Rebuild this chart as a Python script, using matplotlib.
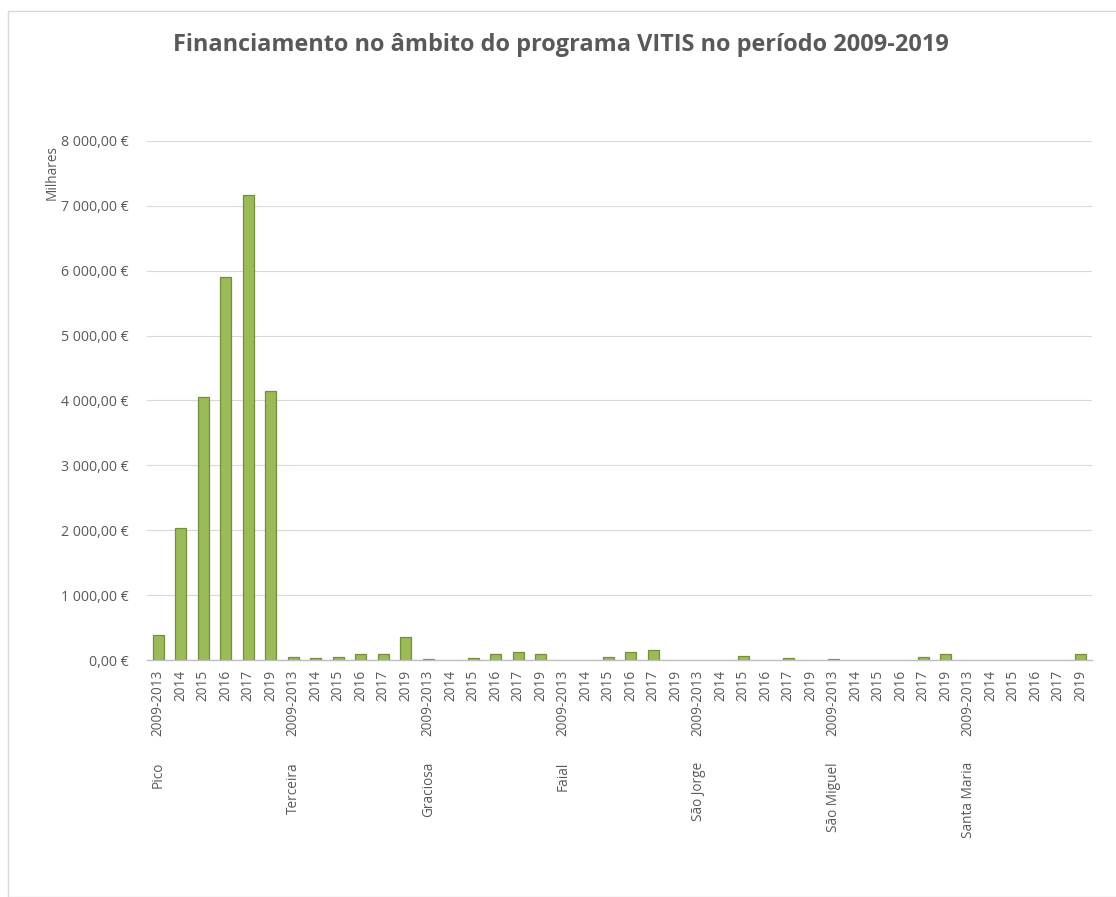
import matplotlib
matplotlib.use("Agg")
import matplotlib.pyplot as plt
from matplotlib.ticker import FuncFormatter
from matplotlib.transforms import blended_transform_factory
from matplotlib.patches import Rectangle

islands = ["Pico", "Terceira", "Graciosa", "Faial", "São Jorge", "São Miguel", "Santa Maria"]
years = ["2009-2013", "2014", "2015", "2016", "2017", "2019"]

pico = [385, 2040, 4050, 5900, 7160, 4145]
terceira = [45, 35, 45, 90, 90, 360]
graciosa = [15, 0, 25, 90, 125, 90]
faial = [0, 0, 45, 125, 150, 0]
sao_jorge = [0, 0, 55, 0, 30, 0]
sao_miguel = [10, 0, 0, 0, 45, 95]
santa_maria = [0, 0, 0, 0, 0, 95]

series = [pico, terceira, graciosa, faial, sao_jorge, sao_miguel, santa_maria]
values = [v for s in series for v in s]
labels = [y for _ in islands for y in years]
x = list(range(len(values)))

plt.rcParams['font.family'] = ['Open Sans', 'DejaVu Sans']
text_col = '#595959'

fig = plt.figure(figsize=(11.16, 8.97), dpi=100)
fig.patches.append(Rectangle((8/1116, 0), 1.2, (897-11)/897, transform=fig.transFigure,
                             fill=False, edgecolor='#d9d9d9', linewidth=1.0))

ax = fig.add_axes([147/1116, 1-660/897, (1092-147)/1116, (660-141)/897])
bars = ax.bar(x, values, width=0.5, color='#9bbb59', edgecolor='#738f3a', linewidth=0.9, zorder=3)
for b, v in zip(bars, values):
    if v == 0:
        b.set_linewidth(0)

ax.set_xlim(-0.5, len(values)-0.5)
ax.set_ylim(0, 8000)
ax.set_yticks(range(0, 8001, 1000))

def fmt(v, pos):
    s = f"{v:,.2f}".replace(",", " ").replace(".", ",")
    return s + " €"
ax.yaxis.set_major_formatter(FuncFormatter(fmt))

ax.grid(axis='y', color='#d9d9d9', linewidth=0.8, zorder=0)
for sp in ['top', 'right', 'left']:
    ax.spines[sp].set_visible(False)
ax.spines['bottom'].set_color('#bfbfbf')
ax.spines['bottom'].set_linewidth(1.0)
ax.spines['bottom'].set_zorder(4)

ax.set_xticks(x)
ax.set_xticklabels(labels, rotation=90, fontsize=9.8, color=text_col)
ax.tick_params(axis='x', length=0, pad=7)
ax.tick_params(axis='y', length=0, pad=13, labelsize=10.2, labelcolor=text_col)

trans = blended_transform_factory(ax.transData, fig.transFigure)
for gi, name in enumerate(islands):
    ax.text(gi*len(years), 1-762/897, name, rotation=90, ha='center', va='top',
            fontsize=9.8, color=text_col, transform=trans)

fig.text(52/1116, 1-173/897, "Milhares", rotation=90, ha='center', va='center',
         fontsize=9.8, color=text_col)

fig.text(561/1116, 1-45/897, "Financiamento no âmbito do programa VITIS no período 2009-2019",
         ha='center', va='center', fontsize=16.9, fontweight='bold', color=text_col)

fig.savefig("out.png", dpi=100)
